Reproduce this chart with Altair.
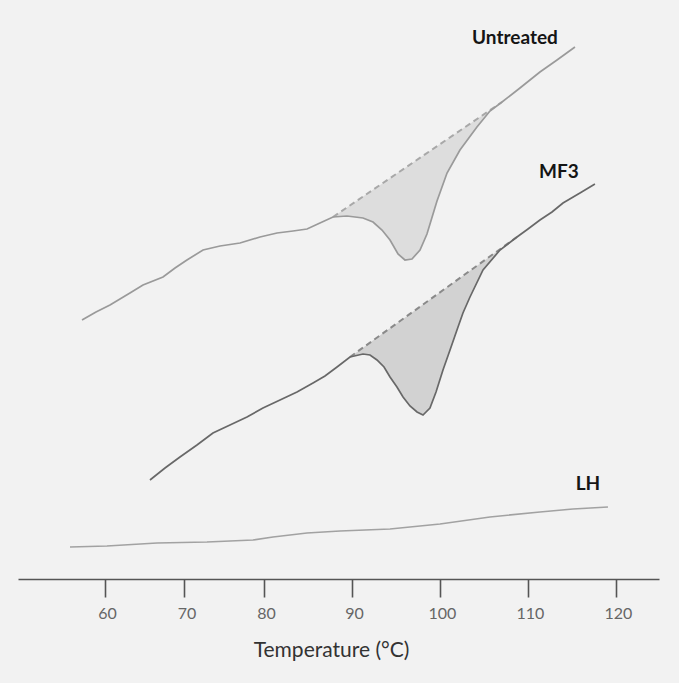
import altair as alt
import pandas as pd

# ---- data (temperature in degC, heat flow in arbitrary units) ----
untreated_t = [57.11, 58.87, 60.63, 63.14, 64.78, 67.30, 68.81, 70.31, 72.33, 74.47, 76.98, 79.50,
               81.48, 83.30, 84.89, 86.36, 87.84, 89.43, 91.25, 92.39, 93.41, 94.32, 95.23, 96.02,
               96.82, 97.73, 98.52, 99.66, 100.80, 102.27, 104.20, 105.68, 107.05, 109.09, 111.36,
               113.30, 115.34]
untreated_hf = [25.9, 26.7, 27.4, 28.6, 29.4, 30.2, 31.1, 31.9, 32.9, 33.3, 33.6, 34.2,
                34.6, 34.8, 35.0, 35.6, 36.2, 36.3, 36.1, 35.7, 34.9, 33.9, 32.5, 31.9,
                32.0, 32.9, 34.5, 37.8, 40.6, 42.9, 45.2, 46.8, 47.7, 49.1, 50.7,
                51.9, 53.2]

mf3_t = [65.66, 67.55, 69.43, 71.57, 73.58, 75.72, 77.86, 79.87, 81.82, 83.75, 85.57, 86.93,
         88.30, 89.77, 91.25, 92.05, 92.84, 93.64, 94.32, 95.11, 95.80, 96.59, 97.39, 98.07,
         98.86, 99.55, 100.34, 101.14, 101.93, 102.61, 103.41, 104.89, 106.82, 108.75, 110.00,
         111.36, 112.73, 113.98, 115.91, 117.61]
mf3_hf = [9.9, 11.1, 12.2, 13.4, 14.6, 15.4, 16.2, 17.1, 17.9, 18.7, 19.6, 20.3,
          21.2, 22.2, 22.5, 22.4, 21.9, 21.2, 20.2, 19.2, 18.2, 17.3, 16.7, 16.4,
          17.1, 18.7, 20.9, 22.9, 24.9, 26.6, 28.2, 30.9, 32.9, 34.2, 35.0,
          35.9, 36.7, 37.6, 38.6, 39.5]

lh_t = [55.60, 60.25, 66.54, 72.83, 78.62, 81.02, 84.89, 88.64, 94.32, 100.00, 105.68,
        111.36, 115.11, 119.09]
lh_hf = [3.2, 3.3, 3.6, 3.7, 3.9, 4.2, 4.6, 4.8, 5.0, 5.5, 6.2, 6.7, 7.0, 7.2]

# integration baselines (start / end points)
untreated_base_t = [87.84, 107.05]
untreated_base_hf = [36.2, 47.7]
mf3_base_t = [89.77, 108.75]
mf3_base_hf = [22.2, 34.2]

labels = ["Untreated", "MF3", "LH"]
label_t = [108.52, 113.52, 116.82]
label_hf = [54.1, 40.7, 9.5]

tick_values = [60, 70, 80, 90, 100, 110, 120]

# ---- tables ----
curves = pd.concat([
    pd.DataFrame({"series": "Untreated", "T": untreated_t, "hf": untreated_hf}),
    pd.DataFrame({"series": "MF3", "T": mf3_t, "hf": mf3_hf}),
    pd.DataFrame({"series": "LH", "T": lh_t, "hf": lh_hf}),
], ignore_index=True)

baselines = pd.concat([
    pd.DataFrame({"series": "Untreated", "T": untreated_base_t, "hf": untreated_base_hf}),
    pd.DataFrame({"series": "MF3", "T": mf3_base_t, "hf": mf3_base_hf}),
], ignore_index=True)

label_df = pd.DataFrame({"label": labels, "T": label_t, "hf": label_hf})

xscale = alt.Scale(domain=[49.06, 80, 124.89], range=[0, 246, 641], nice=False, zero=False)
yscale = alt.Scale(domain=[0, 55.9], nice=False, zero=False)

x_axis = alt.Axis(values=tick_values, title="Temperature (\u00b0C)", grid=False,
                  domainColor="#555555", domainWidth=1.6, tickColor="#555555", tickWidth=1.6,
                  tickSize=18, labelFontSize=16, labelColor="#666666", labelFont="Lato",
                  labelPadding=8, labelOffset=2, titleFontSize=21, titleFont="Lato",
                  titleFontWeight="normal", titleColor="#333333", titlePadding=18,
                  titleX=313)
no_y = alt.Axis(title=None, labels=False, ticks=False, domain=False, grid=False)

line_colors = alt.Scale(domain=["Untreated", "MF3", "LH"], range=["#9a9a9a", "#686868", "#a2a2a2"])
fill_colors = alt.Scale(domain=["Untreated", "MF3"], range=["#dddddd", "#d2d2d2"])
dash_colors = alt.Scale(domain=["Untreated", "MF3"], range=["#a8a8a8", "#8a8a8a"])


def area_layer(name, bt, bh):
    expr = f"{bh[0]} + (datum.T - {bt[0]}) * ({bh[1]} - {bh[0]}) / ({bt[1]} - {bt[0]})"
    return alt.Chart(curves).transform_filter(
        (alt.datum.series == name) & (alt.datum.T >= bt[0]) & (alt.datum.T <= bt[1])
    ).transform_calculate(base=expr).mark_area(opacity=1).encode(
        x=alt.X("T:Q", scale=xscale, axis=x_axis),
        y=alt.Y("hf:Q", scale=yscale, axis=no_y),
        y2="base:Q",
        color=alt.Color("series:N", scale=fill_colors, legend=None),
    )


areas = area_layer("Untreated", untreated_base_t, untreated_base_hf) + \
    area_layer("MF3", mf3_base_t, mf3_base_hf)

dashes = alt.Chart(baselines).mark_line(strokeDash=[6, 4], strokeWidth=2).encode(
    x=alt.X("T:Q", scale=xscale, axis=x_axis),
    y=alt.Y("hf:Q", scale=yscale, axis=no_y),
    color=alt.Color("series:N", scale=dash_colors, legend=None),
    detail="series:N",
)

lines = alt.Chart(curves).mark_line(strokeWidth=1.7).encode(
    x=alt.X("T:Q", scale=xscale, axis=x_axis),
    y=alt.Y("hf:Q", scale=yscale, axis=no_y),
    stroke=alt.Stroke("series:N", scale=line_colors, legend=None),
    order="T:Q",
)

texts = alt.Chart(label_df).mark_text(fontSize=19, fontWeight="bold", font="Lato",
                                      color="#151515").encode(
    x=alt.X("T:Q", scale=xscale, axis=x_axis),
    y=alt.Y("hf:Q", scale=yscale, axis=no_y),
    text="label:N",
)

chart = alt.layer(areas, dashes, lines, texts).resolve_scale(color="independent").properties(
    width=641, height=559, background="#f2f2f2",
    padding={"left": 18, "right": 20, "top": 20, "bottom": 23},
).configure_view(stroke=None)

chart.save("out.html", embed_options={"renderer": "svg", "actions": False})
